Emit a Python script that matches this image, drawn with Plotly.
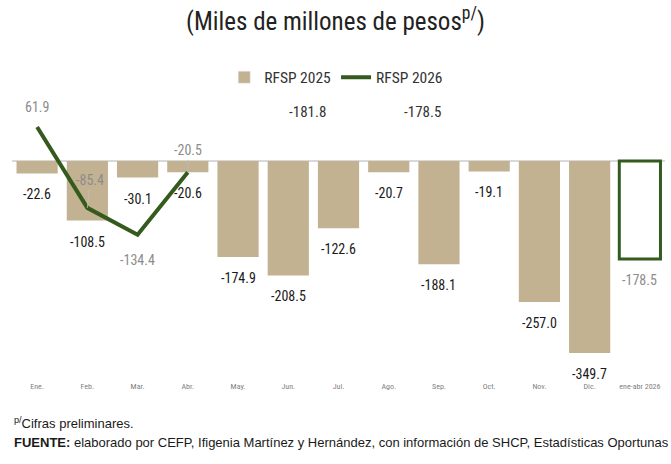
import plotly.graph_objects as go

# datos (miles de millones de pesos)
meses = ["Ene.", "Feb.", "Mar.", "Abr.", "May.", "Jun.", "Jul.", "Ago.", "Sep.",
         "Oct.", "Nov.", "Dic.", "ene-abr 2026"]
rfsp_2025 = [-22.6, -108.5, -30.1, -20.6, -174.9, -208.5, -122.6, -20.7, -188.1,
             -19.1, -257.0, -349.7, -178.5]
meses_2026 = ["Ene.", "Feb.", "Mar.", "Abr."]
rfsp_2026 = [61.9, -85.4, -134.4, -20.5]

TAN = "#C2B291"
VERDE = "#355A1E"
GRIS = "#8C8C8C"
FUENTE = "Liberation Sans Narrow, Roboto Condensed, Arial Narrow, sans-serif"

n = len(meses)
colores = [TAN] * (n - 1) + ["white"]
bordes = [TAN] * (n - 1) + [VERDE]
anchos = [0] * (n - 1) + [3]
col_txt = ["#1a1a1a"] * (n - 1) + [GRIS]

fig = go.Figure()
fig.add_trace(go.Bar(
    x=meses, y=rfsp_2025, name="RFSP 2025",
    marker=dict(color=colores, line=dict(color=bordes, width=anchos)),
    showlegend=False,
))
# entrada de leyenda con barra normal
fig.add_trace(go.Bar(x=[meses[0]], y=[None], name="RFSP 2025", marker_color=TAN))
fig.add_trace(go.Scatter(
    x=meses_2026, y=rfsp_2026, name="RFSP 2026", mode="lines",
    line=dict(color=VERDE, width=4),
))

# etiquetas de las barras (debajo de cada barra)
for m, v, c in zip(meses, rfsp_2025, col_txt):
    fig.add_annotation(x=m, y=v, text=f"{v:.1f}", showarrow=False, yshift=-21,
                       font=dict(size=14, color=c, family=FUENTE))

# etiquetas de la serie 2026
offs = [(0, -20), (3, -28), (0, 25), (0, -22)]
for m, v, (ax, ay) in zip(meses_2026, rfsp_2026, offs):
    flecha = m in ("Feb.", "Abr.")
    fig.add_annotation(x=m, y=v, text=f"{v:.1f}", showarrow=flecha,
                       arrowhead=0, arrowwidth=0.8, arrowcolor="#BFBFBF",
                       ax=ax, ay=ay, standoff=0,
                       xshift=0 if flecha else ax, yshift=0 if flecha else -ay,
                       font=dict(size=14, color=GRIS, family=FUENTE))

# etiquetas sueltas de la parte superior
for xp, txt in [(0.453, "-181.8"), (0.628, "-178.5")]:
    fig.add_annotation(x=xp, xref="paper", y=89, yref="y", text=txt,
                       showarrow=False, font=dict(size=15, color="#333333", family=FUENTE))

# notas al pie
NOTA = "Liberation Sans, Arial, sans-serif"
fig.add_annotation(x=0.0, xref="paper", xanchor="left", y=-0.165, yref="paper",
                   text="<sup>p/</sup>Cifras preliminares.", showarrow=False,
                   font=dict(size=13, color="#1a1a1a", family=NOTA))
fig.add_annotation(x=0.0, xref="paper", xanchor="left", y=-0.225, yref="paper",
                   text="<b>FUENTE:</b> elaborado por CEFP, Ifigenia Martínez y Hernández, "
                        "con información de SHCP, Estadísticas Oportunas",
                   showarrow=False, font=dict(size=13, color="#1a1a1a", family=NOTA))

fig.update_layout(
    title=dict(text="(Miles de millones de pesos<sup>p/</sup>)", x=0.5, xanchor="center",
               y=0.955, yanchor="middle", font=dict(size=25, color="#222222", family=FUENTE)),
    width=671, height=464,
    margin=dict(l=12, r=6, t=60, b=84),
    plot_bgcolor="white", paper_bgcolor="white",
    bargap=0.18, barmode="overlay",
    legend=dict(orientation="h", x=0.325, xanchor="left", y=0.945, yanchor="middle",
                font=dict(size=15.5, color="#333333", family=FUENTE),
                bgcolor="rgba(0,0,0,0)"),
    xaxis=dict(range=[-0.5, 12.5], showgrid=False, showline=False, ticks="",
               tickfont=dict(size=8, color="#7F7F7F", family=FUENTE)),
    yaxis=dict(range=[-399, 184], showgrid=False, showticklabels=False,
               zeroline=True, zerolinecolor="#D9D9D9", zerolinewidth=1.5),
    font=dict(family=FUENTE),
)

fig.write_html("out.html", config={"displayModeBar": False},
               post_script="document.body.style.margin='0';")
